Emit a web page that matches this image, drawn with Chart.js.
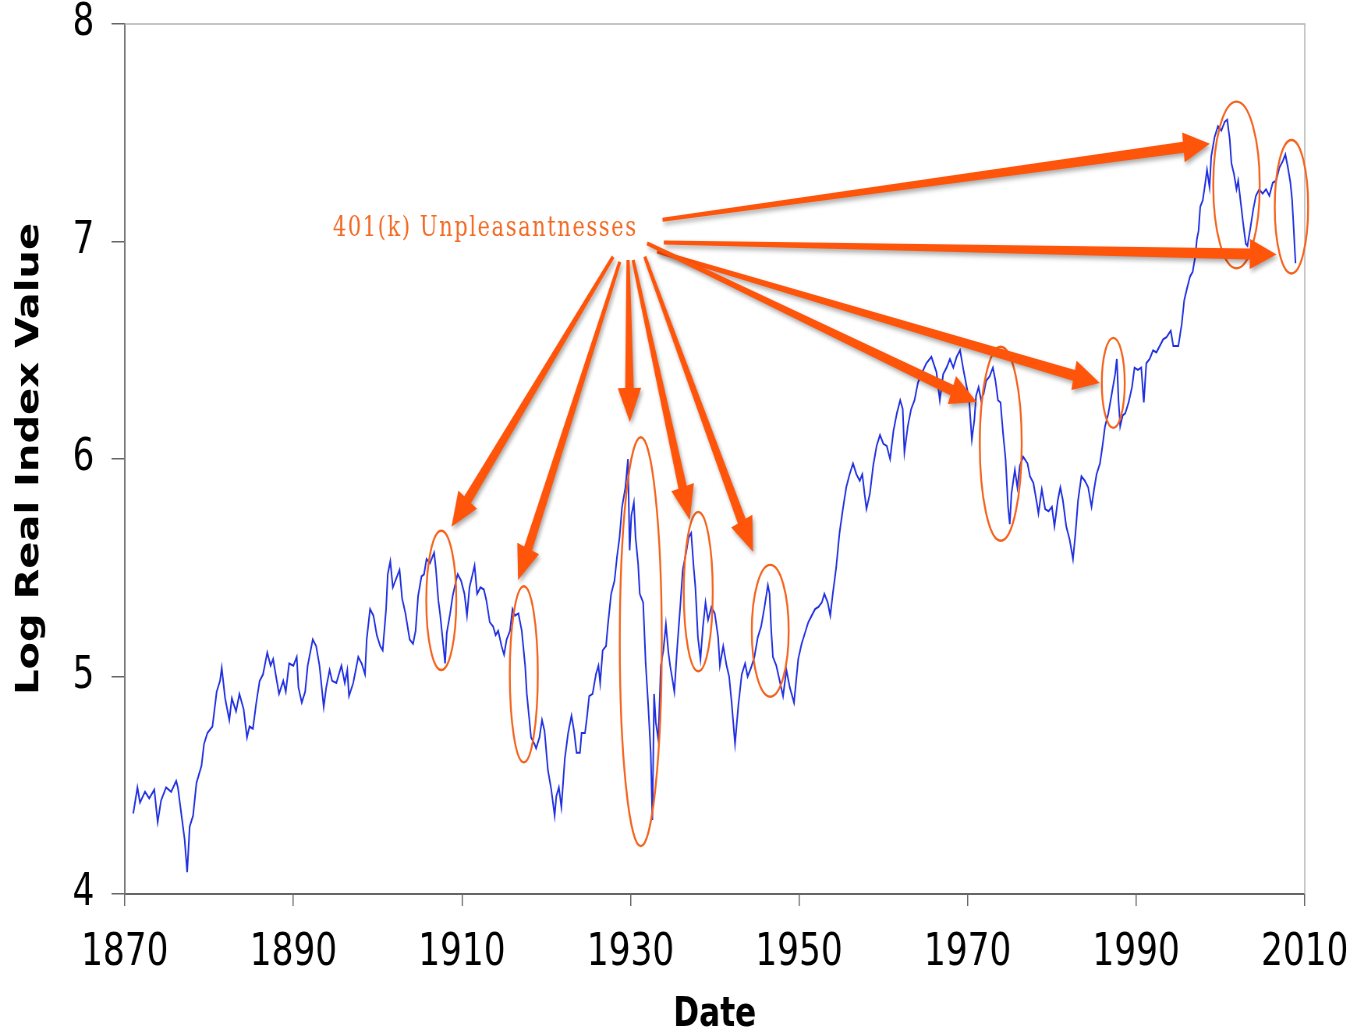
<!DOCTYPE html>
<html lang="en">
<head>
<meta charset="UTF-8">
<title>Log Real Index Value</title>
<script src="https://cdn.jsdelivr.net/npm/chart.js"></script>
<style>
  * { margin: 0; padding: 0; }
  body { background: #fff; width: 1357px; height: 1036px; overflow: hidden; }
</style>
</head>
<body>
<!-- drawn wide and squeezed to 1357px, the original picture is horizontally compressed -->
<canvas id="chart" width="1740" height="1036" style="width:1357px;height:1036px"></canvas>
<script>
// data
const years = [
  1871.0,1871.5,1871.8,1872.4,1872.9,1873.5,1873.9,1874.3,1874.9,1875.5,
  1876.1,1876.3,1876.7,1877.1,1877.4,1877.7,1878.1,1878.5,1879.1,1879.4,
  1879.8,1880.4,1880.9,1881.3,1881.5,1881.9,1882.4,1882.7,1883.2,1883.6,
  1884.1,1884.5,1884.8,1885.2,1885.6,1886.0,1886.4,1886.9,1887.3,1887.6,
  1887.9,1888.3,1888.8,1889.1,1889.5,1890.0,1890.4,1890.6,1891.0,1891.4,
  1891.7,1892.3,1892.7,1893.1,1893.6,1893.9,1894.3,1894.6,1895.1,1895.7,
  1896.1,1896.4,1896.6,1897.1,1897.7,1898.1,1898.5,1898.7,1899.1,1899.5,
  1899.9,1900.3,1900.6,1901.0,1901.2,1901.5,1901.8,1902.2,1902.6,1902.9,
  1903.3,1903.8,1904.2,1904.5,1904.8,1905.2,1905.5,1905.8,1906.2,1906.7,
  1906.9,1907.2,1907.4,1907.8,1908.0,1908.2,1908.6,1908.9,1909.3,1909.5,
  1909.9,1910.3,1910.6,1910.9,1911.2,1911.5,1911.8,1912.2,1912.6,1912.9,
  1913.3,1913.7,1914.0,1914.3,1914.7,1915.0,1915.3,1915.7,1916.0,1916.3,
  1916.7,1917.1,1917.5,1917.7,1918.0,1918.2,1918.6,1918.8,1919.2,1919.5,
  1919.8,1920.2,1920.6,1921.0,1921.2,1921.5,1921.8,1922.2,1922.6,1923.0,
  1923.3,1923.6,1924.0,1924.2,1924.6,1924.8,1925.1,1925.5,1925.9,1926.2,
  1926.4,1926.7,1927.1,1927.3,1927.7,1928.1,1928.4,1928.7,1929.0,1929.4,
  1929.7,1929.9,1930.1,1930.4,1930.6,1930.9,1931.1,1931.5,1931.8,1932.1,
  1932.4,1932.6,1932.8,1933.0,1933.3,1933.6,1933.9,1934.2,1934.5,1934.7,
  1935.0,1935.2,1935.5,1935.9,1936.2,1936.6,1936.9,1937.2,1937.5,1937.7,
  1938.0,1938.3,1938.6,1938.9,1939.2,1939.6,1940.0,1940.4,1940.6,1941.0,
  1941.4,1941.7,1942.0,1942.4,1942.8,1943.2,1943.6,1943.9,1944.3,1944.7,
  1945.1,1945.5,1945.9,1946.3,1946.5,1946.7,1946.9,1947.3,1947.7,1948.1,
  1948.5,1948.9,1949.4,1949.9,1950.3,1950.7,1951.1,1951.5,1951.9,1952.3,
  1952.7,1953.0,1953.4,1953.7,1954.0,1954.4,1954.8,1955.2,1955.6,1956.0,
  1956.4,1956.8,1957.2,1957.5,1957.8,1958.0,1958.4,1958.8,1959.2,1959.6,
  1960.0,1960.4,1960.8,1961.2,1961.6,1962.0,1962.3,1962.5,1962.9,1963.3,
  1963.7,1964.1,1964.5,1965.1,1965.7,1966.3,1966.7,1967.1,1967.5,1967.9,
  1968.3,1968.7,1969.1,1969.5,1969.9,1970.2,1970.5,1970.8,1971.0,1971.3,
  1971.6,1971.9,1972.2,1972.6,1973.0,1973.3,1973.6,1973.9,1974.2,1974.5,
  1974.8,1975.0,1975.2,1975.6,1975.9,1976.2,1976.6,1977.1,1977.4,1977.8,
  1978.2,1978.4,1978.8,1979.2,1979.6,1980.0,1980.3,1980.7,1981.0,1981.3,
  1981.7,1982.1,1982.5,1982.8,1983.1,1983.5,1983.9,1984.3,1984.7,1985.0,
  1985.3,1985.7,1986.0,1986.3,1986.7,1987.1,1987.5,1987.7,1987.9,1988.1,
  1988.4,1988.7,1989.1,1989.5,1989.8,1990.2,1990.6,1990.9,1991.2,1991.6,
  1992.0,1992.4,1992.8,1993.2,1993.6,1994.1,1994.4,1995.0,1995.4,1995.7,
  1996.0,1996.4,1996.7,1997.0,1997.2,1997.4,1997.6,1997.9,1998.2,1998.4,
  1998.7,1998.9,1999.3,1999.7,2000.1,2000.5,2000.8,2001.1,2001.3,2001.6,
  2001.9,2002.1,2002.4,2002.7,2003.0,2003.2,2003.5,2003.9,2004.2,2004.6,
  2005.0,2005.4,2005.8,2006.2,2006.6,2007.0,2007.4,2007.7,2008.0,2008.3,
  2008.5,2008.7,2008.9
];
const logIndex = [
  4.37,4.49,4.42,4.47,4.44,4.48,4.33,4.43,4.49,4.47,
  4.52,4.49,4.37,4.25,4.10,4.31,4.36,4.51,4.59,4.69,
  4.74,4.77,4.93,4.98,5.04,4.90,4.80,4.90,4.84,4.92,
  4.85,4.72,4.77,4.76,4.88,4.98,5.01,5.11,5.05,5.08,
  5.01,4.92,4.98,4.93,5.06,5.05,5.09,4.95,4.88,4.93,
  5.05,5.17,5.14,5.05,4.86,4.95,5.03,4.98,4.97,5.05,
  4.97,5.03,4.91,4.97,5.09,5.06,5.01,5.17,5.31,5.28,
  5.19,5.14,5.12,5.31,5.47,5.53,5.41,5.45,5.49,5.36,
  5.29,5.17,5.15,5.21,5.37,5.46,5.47,5.54,5.52,5.57,
  5.50,5.35,5.29,5.14,5.06,5.20,5.29,5.37,5.44,5.47,
  5.44,5.38,5.28,5.41,5.46,5.51,5.38,5.41,5.40,5.35,
  5.25,5.23,5.19,5.21,5.14,5.10,5.17,5.21,5.31,5.28,
  5.29,5.21,5.05,4.92,4.80,4.72,4.69,4.67,4.72,4.80,
  4.75,4.57,4.48,4.36,4.45,4.49,4.40,4.62,4.74,4.82,
  4.75,4.65,4.65,4.74,4.74,4.80,4.91,4.92,5.01,5.05,
  4.97,5.12,5.14,5.23,5.38,5.44,5.55,5.64,5.78,5.87,
  6.00,5.58,5.74,5.80,5.64,5.52,5.38,5.34,5.06,4.87,
  4.65,4.34,4.92,4.79,4.71,5.05,5.12,5.24,5.11,5.05,
  4.98,4.93,5.11,5.32,5.49,5.57,5.64,5.66,5.50,5.41,
  5.18,5.08,5.23,5.34,5.26,5.32,5.29,5.18,5.05,5.14,
  5.05,5.00,4.88,4.69,4.87,5.01,5.06,5.00,5.04,5.09,
  5.18,5.23,5.32,5.42,5.38,5.21,5.09,5.05,4.98,4.91,
  5.03,4.95,4.88,5.08,5.15,5.20,5.25,5.28,5.31,5.32,
  5.34,5.38,5.34,5.28,5.38,5.50,5.66,5.77,5.87,5.93,
  5.98,5.93,5.90,5.93,5.83,5.77,5.84,5.97,6.06,6.11,
  6.07,6.06,6.00,6.13,6.21,6.27,6.23,6.03,6.15,6.23,
  6.27,6.35,6.39,6.44,6.47,6.40,6.27,6.39,6.42,6.46,
  6.42,6.47,6.50,6.41,6.33,6.26,6.09,6.18,6.29,6.33,
  6.27,6.30,6.36,6.38,6.42,6.36,6.27,6.26,6.12,6.00,
  5.78,5.70,5.84,5.95,5.87,5.97,6.01,5.98,5.92,5.89,
  5.80,5.75,5.86,5.77,5.76,5.78,5.69,5.81,5.87,5.81,
  5.69,5.63,5.54,5.66,5.81,5.92,5.90,5.87,5.78,5.86,
  5.93,5.98,6.06,6.15,6.21,6.30,6.39,6.46,6.27,6.15,
  6.20,6.21,6.26,6.33,6.42,6.41,6.42,6.26,6.44,6.46,
  6.50,6.49,6.52,6.55,6.56,6.59,6.52,6.52,6.62,6.73,
  6.78,6.84,6.86,6.93,7.01,7.05,7.16,7.19,7.27,7.33,
  7.25,7.39,7.48,7.53,7.51,7.55,7.56,7.47,7.36,7.31,
  7.24,7.28,7.18,7.08,6.99,6.98,7.05,7.15,7.21,7.24,
  7.22,7.24,7.21,7.27,7.28,7.34,7.37,7.40,7.34,7.27,
  7.19,7.05,6.90
];
const xTicks = [1870, 1890, 1910, 1930, 1950, 1970, 1990, 2010];
const yTicks = [4, 5, 6, 7, 8];

// the orange markup, in chart units
const noteText = '401(k) Unpleasantnesses';
const notePos = {x: 1894.68, y: 7.057};
const rings = [
  {x: 1907.55, y: 5.35, rx: 1.78, ry: 0.32},
  {x: 1917.34, y: 5.01, rx: 1.66, ry: 0.405},
  {x: 1931.22, y: 5.16, rx: 2.49, ry: 0.94},
  {x: 1938.04, y: 5.39, rx: 1.72, ry: 0.366},
  {x: 1946.58, y: 5.21, rx: 2.19, ry: 0.303},
  {x: 1973.93, y: 6.07, rx: 2.49, ry: 0.446},
  {x: 1987.28, y: 6.35, rx: 1.36, ry: 0.207},
  {x: 2001.9, y: 7.26, rx: 2.76, ry: 0.383},
  {x: 2008.42, y: 7.16, rx: 1.98, ry: 0.307}
];
const arrows = [
  {from: [1933.8, 7.10], to: [1998.73, 7.45]},
  {from: [1933.95, 6.995], to: [2006.64, 6.94]},
  {from: [1933.15, 6.954], to: [1985.68, 6.349]},
  {from: [1931.97, 6.991], to: [1971.08, 6.262]},
  {from: [1927.93, 6.93], to: [1908.76, 5.689]},
  {from: [1928.73, 6.907], to: [1916.66, 5.444]},
  {from: [1929.71, 6.915], to: [1929.92, 6.17]},
  {from: [1930.31, 6.915], to: [1937.03, 5.72]},
  {from: [1931.69, 6.93], to: [1944.54, 5.573]}
];

function drawArrow(ctx, x0, y0, x1, y1) {
  const dx = x1 - x0, dy = y1 - y0, len = Math.hypot(dx, dy);
  const ux = dx / len, uy = dy / len, nx = -uy, ny = ux;
  const head = 34, hw = 15, w0 = 2, w1 = 5.5;
  const bx = x1 - ux * head, by = y1 - uy * head;
  ctx.beginPath();
  ctx.moveTo(x0 + nx * w0, y0 + ny * w0);
  ctx.lineTo(bx + nx * w1, by + ny * w1);
  ctx.lineTo(bx + nx * hw, by + ny * hw);
  ctx.lineTo(x1, y1);
  ctx.lineTo(bx - nx * hw, by - ny * hw);
  ctx.lineTo(bx - nx * w1, by - ny * w1);
  ctx.lineTo(x0 - nx * w0, y0 - ny * w0);
  ctx.closePath();
  ctx.fill();
}

const markup = {
  id: 'markup',
  beforeDatasetsDraw(chart) {
    // light frame on top and right of the plot
    const {ctx, chartArea: a} = chart;
    ctx.save();
    ctx.strokeStyle = '#b4b4b4';
    ctx.lineWidth = 1.5;
    ctx.beginPath();
    ctx.moveTo(a.left, a.top);
    ctx.lineTo(a.right, a.top);
    ctx.lineTo(a.right, a.bottom);
    ctx.stroke();
    ctx.restore();
  },
  afterDatasetsDraw(chart) {
    const {ctx, scales: {x, y}} = chart;
    ctx.save();

    ctx.strokeStyle = '#f5621c';
    ctx.lineWidth = 2.4;
    rings.forEach(r => {
      const cx = x.getPixelForValue(r.x), cy = y.getPixelForValue(r.y);
      const rx = Math.abs(x.getPixelForValue(r.x + r.rx) - cx);
      const ry = Math.abs(y.getPixelForValue(r.y + r.ry) - cy);
      ctx.beginPath();
      ctx.ellipse(cx, cy, rx, ry, 0, 0, Math.PI * 2);
      ctx.stroke();
    });

    ctx.fillStyle = '#ff550a';
    ctx.shadowColor = 'rgba(0,0,0,0.35)';
    ctx.shadowBlur = 5;
    ctx.shadowOffsetX = 2;
    ctx.shadowOffsetY = 3;
    arrows.forEach(a => {
      drawArrow(ctx,
        x.getPixelForValue(a.from[0]), y.getPixelForValue(a.from[1]),
        x.getPixelForValue(a.to[0]), y.getPixelForValue(a.to[1]));
    });

    ctx.shadowColor = 'transparent';
    ctx.fillStyle = '#f26a23';
    ctx.font = '27px "DejaVu Serif"';
    ctx.letterSpacing = '2px';
    ctx.textAlign = 'left';
    ctx.textBaseline = 'middle';
    ctx.fillText(noteText, x.getPixelForValue(notePos.x), y.getPixelForValue(notePos.y));
    ctx.restore();
  }
};

new Chart(document.getElementById('chart'), {
  type: 'line',
  data: {
    datasets: [{
      data: years.map((yr, i) => ({x: yr, y: logIndex[i]})),
      borderColor: '#1f2fe0',
      borderWidth: 2,
      pointRadius: 0,
      tension: 0
    }]
  },
  options: {
    responsive: false,
    animation: false,
    devicePixelRatio: 1,
    layout: {padding: {top: 24, right: 67, bottom: 0, left: 0}},
    plugins: {legend: {display: false}, tooltip: {enabled: false}},
    scales: {
      x: {
        type: 'linear',
        min: 1870,
        max: 2010,
        afterBuildTicks: s => { s.ticks = xTicks.map(v => ({value: v})); },
        afterFit: s => {
          s.height = 142;
          s.paddingLeft = 0;
          s.paddingRight = 0;
        },
        ticks: {
          color: '#000',
          font: {family: 'DejaVu Sans', size: 44},
          padding: 21,
          maxRotation: 0,
          autoSkip: false,
          callback: v => String(v)
        },
        grid: {drawOnChartArea: false, tickLength: 12, color: '#666', lineWidth: 1.5},
        border: {color: '#666', width: 2},
        title: {
          display: true,
          text: 'Date',
          color: '#000',
          font: {family: 'DejaVu Sans', size: 40, weight: 'bold', lineHeight: 1},
          padding: {top: 0, bottom: 0}
        }
      },
      y: {
        min: 4,
        max: 8,
        afterBuildTicks: s => { s.ticks = yTicks.map(v => ({value: v})); },
        afterFit: s => {
          s.width = 160;
          // keep the plot top at the layout padding
          s.paddingTop = 0;
          s.paddingBottom = 0;
        },
        ticks: {
          color: '#000',
          font: {family: 'DejaVu Sans', size: 44, lineHeight: 1},
          padding: 22,
          callback: v => String(v)
        },
        grid: {drawOnChartArea: false, tickLength: 17, color: '#666', lineWidth: 1.5},
        border: {color: '#777', width: 2},
        title: {
          display: true,
          text: 'Log Real Index Value',
          color: '#000',
          font: {family: 'DejaVu Sans', size: 40, weight: 'bold', lineHeight: 1},
          padding: {top: 19, bottom: 0}
        }
      }
    }
  },
  plugins: [markup]
});
</script>
</body>
</html>
